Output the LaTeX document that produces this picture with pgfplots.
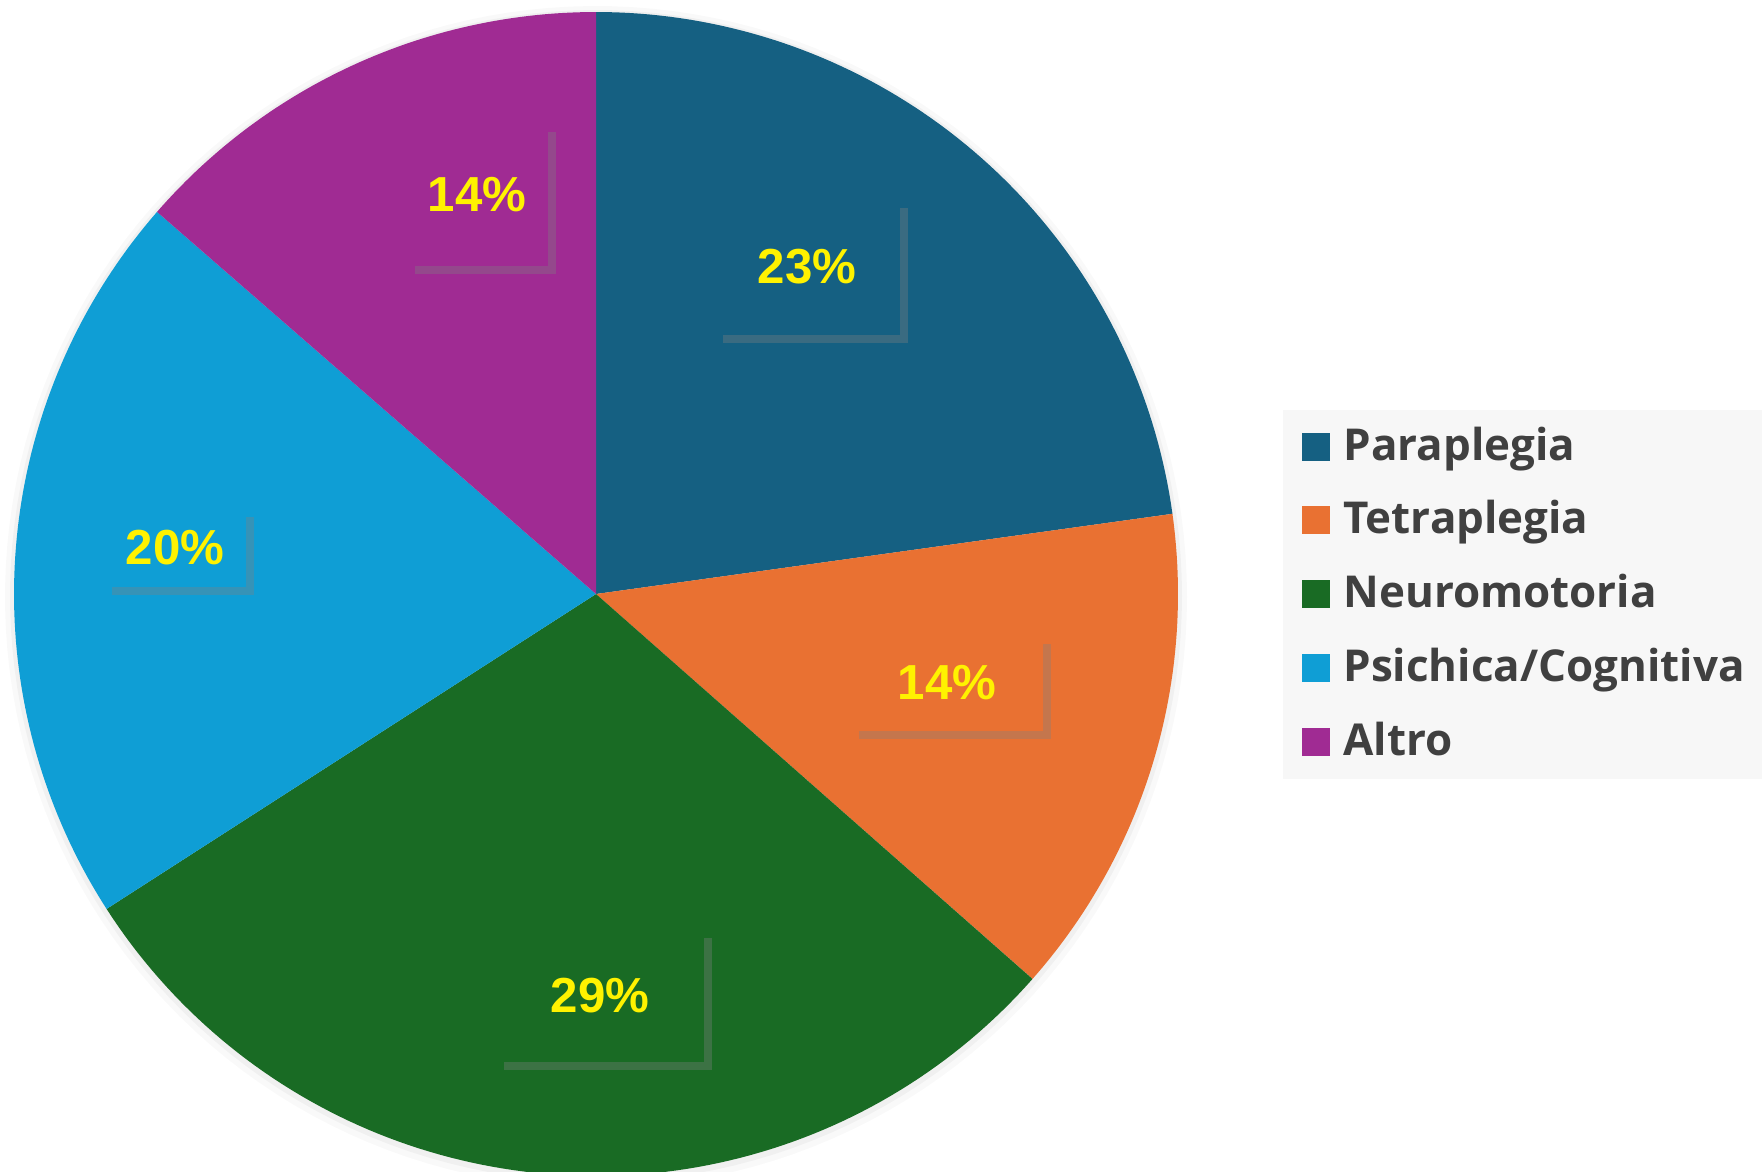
\documentclass[border=0pt]{standalone}
\usepackage{pgfplots}
\pgfplotsset{compat=1.18}
\usepackage{pgfplotstable}
\usetikzlibrary{shadows}
\usepackage{fontspec}
\setmainfont{Liberation Sans}
\newfontfamily\legfont{Open Sans}
\definecolor{cP}{HTML}{156082}
\definecolor{cT}{HTML}{E97132}
\definecolor{cN}{HTML}{196B24}
\definecolor{cS}{HTML}{0F9ED5}
\definecolor{cA}{HTML}{A02B93}
\definecolor{legtxt}{HTML}{404040}
\definecolor{legbg}{HTML}{F7F7F7}
% shares in percent (clockwise from 12 o'clock)
\def\vP{22.8}\def\vT{13.7}\def\vN{29.4}\def\vS{20.5}\def\vA{13.6}
\pgfmathsetmacro\aA{90}
\pgfmathsetmacro\aB{\aA-3.6*\vP}
\pgfmathsetmacro\aC{\aB-3.6*\vT}
\pgfmathsetmacro\aD{\aC-3.6*\vN}
\pgfmathsetmacro\aE{\aD-3.6*\vS}
\pgfmathsetmacro\aF{\aE-3.6*\vA}
\def\cx{596}\def\cy{577}\def\R{582}
\begin{document}
\begin{tikzpicture}
\begin{axis}[
  width=17.62cm, height=11.71cm, scale only axis,
  xmin=0, xmax=1762, ymin=0, ymax=1171,
  hide axis, clip=true,
  axis background/.style={fill=white},
  legend cell align=left,
  legend image code/.code={\fill[#1] (0pt,-3.4pt) rectangle (8.0pt,4.6pt);},
  legend style={at={(axis cs:1301,752)}, anchor=north west, draw=none, fill=none,
    inner sep=0pt, row sep=4.5pt,
    font=\legfont\bfseries\fontsize{12.5pt}{15pt}\selectfont, text=legtxt,
    nodes={inner sep=2pt, text height=9.5pt, text depth=3pt},
    /tikz/every odd column/.append style={column sep=1.9pt}},
]
\fill[legbg] (axis cs:1283,392) rectangle (axis cs:1762,761);
% soft shadow around pie
\addplot[fill=black, fill opacity=0.025, draw=none, domain=0:360, samples=180, forget plot] ({\cx+(\R+9)*cos(x)},{\cy-3+(\R+9)*sin(x)});
\addplot[fill=black, fill opacity=0.035, draw=none, domain=0:360, samples=180, forget plot] ({\cx+(\R+4)*cos(x)},{\cy-2+(\R+4)*sin(x)});
\addplot[fill=cP, draw=none, domain=\aB:\aA, samples=80] ({\cx+\R*cos(x)},{\cy+\R*sin(x)}) -- (axis cs:\cx,\cy) -- cycle;
\addlegendentry{Paraplegia}
\addplot[fill=cT, draw=none, domain=\aC:\aB, samples=60] ({\cx+\R*cos(x)},{\cy+\R*sin(x)}) -- (axis cs:\cx,\cy) -- cycle;
\addlegendentry{Tetraplegia}
\addplot[fill=cN, draw=none, domain=\aD:\aC, samples=100] ({\cx+\R*cos(x)},{\cy+\R*sin(x)}) -- (axis cs:\cx,\cy) -- cycle;
\addlegendentry{Neuromotoria}
\addplot[fill=cS, draw=none, domain=\aE:\aD, samples=80] ({\cx+\R*cos(x)},{\cy+\R*sin(x)}) -- (axis cs:\cx,\cy) -- cycle;
\addlegendentry{Psichica/Cognitiva}
\addplot[fill=cA, draw=none, domain=\aF:\aE, samples=60] ({\cx+\R*cos(x)},{\cy+\R*sin(x)}) -- (axis cs:\cx,\cy) -- cycle;
\addlegendentry{Altro}
\tikzset{lab/.style={text=yellow, font=\bfseries\fontsize{14pt}{16pt}\selectfont, inner sep=0pt,
  drop shadow={shadow xshift=2.4pt, shadow yshift=-2.4pt, opacity=0.35}}}
\node[lab, fill=cP, minimum width=1.85cm, minimum height=1.35cm] at (axis cs:807,904) {23\%};
\node[lab, fill=cT, minimum width=1.92cm, minimum height=0.95cm] at (axis cs:947,488) {14\%};
\node[lab, fill=cN, minimum width=2.08cm, minimum height=1.32cm] at (axis cs:600,175) {29\%};
\node[lab, fill=cS, minimum width=1.42cm, minimum height=0.78cm] at (axis cs:175,623) {20\%};
\node[lab, fill=cA, minimum width=1.41cm, minimum height=1.42cm] at (axis cs:477,976) {14\%};
\end{axis}
\end{tikzpicture}
\end{document}
